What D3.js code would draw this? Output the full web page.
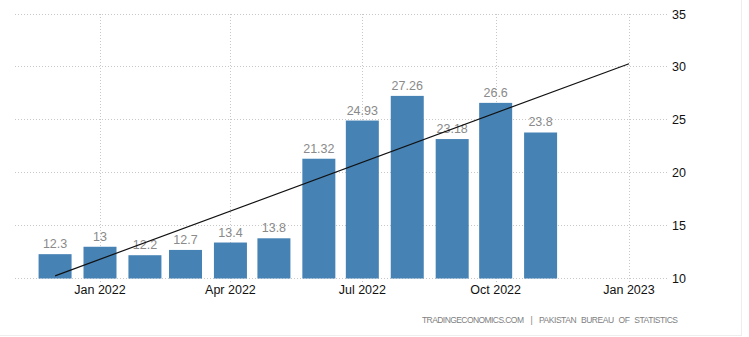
<!DOCTYPE html>
<html>
<head>
<meta charset="utf-8">
<script src="https://cdn.jsdelivr.net/npm/d3@7"></script>
<style>
  html, body { margin: 0; padding: 0; background: #fff; }
  svg { display: block; font-family: "Liberation Sans", Arial, sans-serif; }
</style>
</head>
<body>
<svg id="chart" width="749" height="337"></svg>
<script>
// Monthly series, Dec 2021 – Nov 2022
const months = ["2021-12-01", "2022-01-01", "2022-02-01", "2022-03-01", "2022-04-01", "2022-05-01",
                "2022-06-01", "2022-07-01", "2022-08-01", "2022-09-01", "2022-10-01", "2022-11-01"];
const values = [12.3, 13, 12.2, 12.7, 13.4, 13.8, 21.32, 24.93, 27.26, 23.18, 26.6, 23.8];
const valueLabels = ["12.3", "13", "12.2", "12.7", "13.4", "13.8", "21.32", "24.93", "27.26", "23.18", "26.6", "23.8"];

// Linear trend, endpoints
const trendDates = ["2021-12-01", "2023-01-01"];
const trendValues = [10.25, 30.3];

const xTicks = ["2022-01-01", "2022-04-01", "2022-07-01", "2022-10-01", "2023-01-01"];
const xTickLabels = ["Jan 2022", "Apr 2022", "Jul 2022", "Oct 2022", "Jan 2023"];
const yTicks = [10, 15, 20, 25, 30, 35];

const parse = d3.utcParse("%Y-%m-%d");
const svg = d3.select("#chart");

const plotLeft = 15, plotRight = 668, plotTop = 14, plotBottom = 278.5;

const x = d3.scaleUtc()
  .domain([parse("2022-01-01"), parse("2023-01-01")])
  .range([100, 629]);
const y = d3.scaleLinear().domain([10, 35]).range([plotBottom, plotTop]);

// horizontal grid
svg.append("g").selectAll("line").data(yTicks).join("line")
  .attr("x1", plotLeft).attr("x2", plotRight)
  .attr("y1", d => y(d)).attr("y2", d => y(d))
  .attr("stroke", "#c8c8c8").attr("stroke-width", 1)
  .attr("stroke-dasharray", "1,2").attr("shape-rendering", "crispEdges");

// vertical grid
svg.append("g").selectAll("line").data(xTicks).join("line")
  .attr("x1", d => Math.round(x(parse(d))) + 0.5).attr("x2", d => Math.round(x(parse(d))) + 0.5)
  .attr("y1", plotTop).attr("y2", plotBottom + 4)
  .attr("stroke", "#c8c8c8").attr("stroke-width", 1)
  .attr("stroke-dasharray", "1,2");

// bars
const barW = 33;
svg.append("g").selectAll("rect").data(values).join("rect")
  .attr("x", (d, i) => x(parse(months[i])) - barW / 2)
  .attr("width", barW)
  .attr("y", d => y(d))
  .attr("height", d => plotBottom - y(d))
  .attr("fill", "#4682b4");

// value labels
svg.append("g").selectAll("text").data(values).join("text")
  .attr("x", (d, i) => x(parse(months[i])))
  .attr("y", d => y(d) - 6)
  .attr("text-anchor", "middle")
  .attr("font-size", 12.5)
  .attr("fill", "#8a8a8a")
  .text((d, i) => valueLabels[i]);

// trend line
const line = d3.line()
  .x((d, i) => x(parse(trendDates[i])))
  .y(d => y(d));
svg.append("path")
  .datum(trendValues)
  .attr("d", line)
  .attr("fill", "none")
  .attr("stroke", "#111")
  .attr("stroke-width", 1.2);

// x axis labels
svg.append("g").selectAll("text").data(xTicks).join("text")
  .attr("x", d => x(parse(d)))
  .attr("y", 293.5)
  .attr("text-anchor", "middle")
  .attr("font-size", 12.5)
  .attr("fill", "#111")
  .text((d, i) => xTickLabels[i]);

// y axis labels
svg.append("g").selectAll("text").data(yTicks).join("text")
  .attr("x", 672)
  .attr("y", d => y(d) + 4.5)
  .attr("font-size", 12.5)
  .attr("fill", "#111")
  .text(d => d);

// source line
const src = svg.append("g").attr("font-size", 8.5).attr("fill", "#808080");
src.append("text").attr("x", 422).attr("y", 323)
  .attr("textLength", 102).attr("lengthAdjust", "spacing")
  .text("TRADINGECONOMICS.COM");
src.append("text").attr("x", 531.5).attr("y", 323).attr("text-anchor", "middle")
  .text("|");
src.append("text").attr("x", 539).attr("y", 323)
  .attr("textLength", 139).attr("lengthAdjust", "spacing")
  .attr("word-spacing", 3)
  .text("PAKISTAN BUREAU OF STATISTICS");

// frame edges
svg.append("line").attr("x1", 741.5).attr("x2", 741.5).attr("y1", 0).attr("y2", 335)
  .attr("stroke", "#eeeeee");
svg.append("line").attr("x1", 0).attr("x2", 742).attr("y1", 335.5).attr("y2", 335.5)
  .attr("stroke", "#eeeeee");
</script>
</body>
</html>
